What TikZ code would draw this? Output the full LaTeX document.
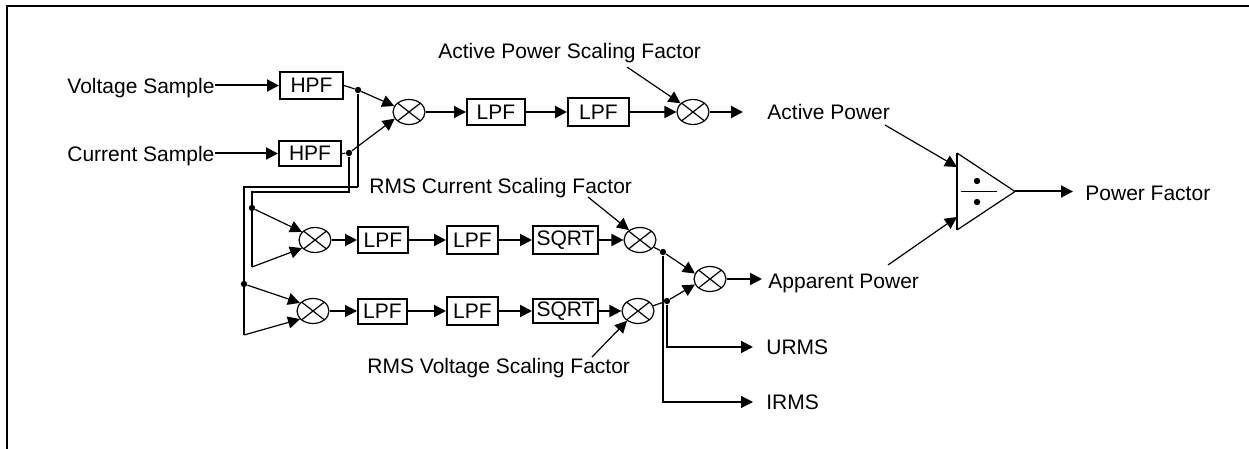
\documentclass[tikz,border=0pt]{standalone}
\usepackage{fontspec}
\setmainfont{Liberation Sans}
\usetikzlibrary{arrows.meta,shapes.geometric}
\begin{document}
\begin{tikzpicture}[x=0.5pt,y=-0.5pt,
  font=\fontsize{10.5pt}{12pt}\selectfont,
  thk/.style={line width=1pt},
  thn/.style={line width=0.6pt},
  arr/.style={-{Triangle[length=6pt,width=6pt]}},
  blk/.style={draw,line width=1pt,inner sep=0pt,minimum height=13pt},
  mult/.style={draw,ellipse,line width=0.6pt,inner sep=0pt,minimum width=16pt,minimum height=12.5pt,
     path picture={\draw[line width=0.6pt] (path picture bounding box.north west) -- (path picture bounding box.south east) (path picture bounding box.south west) -- (path picture bounding box.north east);}},
  jdot/.style={circle,fill,inner sep=0pt,minimum size=3.2pt},
  lbl/.style={inner sep=0pt,anchor=base west}]
\useasboundingbox (0,0) rectangle (1249,449);
% frame
\draw[line width=1pt] (7,449) -- (7,6) -- (1249,6);

% labels
\node[lbl] (vs) at (67,94) {Voltage Sample};
\node[lbl] (cs) at (67,162) {Current Sample};
\node[lbl] (apsf) at (438,59) {Active Power Scaling Factor};
\node[lbl] (rcsf) at (369,193) {RMS Current Scaling Factor};
\node[lbl] (rvsf) at (367,373) {RMS Voltage Scaling Factor};
\node[lbl] (ap) at (767,120) {Active Power};
\node[lbl] (pf) at (1085,200) {Power Factor};
\node[lbl] (app) at (768,288) {Apparent Power};
\node[lbl] (urms) at (766,354) {URMS};
\node[lbl] (irms) at (766,409) {IRMS};

% blocks
\node[blk,minimum width=31.5pt,minimum height=13.5pt] (hpf1) at (311.5,85.5) {HPF};
\node[blk,minimum width=31pt,minimum height=12.5pt] (hpf2) at (310,153.5) {HPF};
\node[mult] (m1) at (409,112) {};
\node[blk,minimum width=29pt] (la) at (496,112) {LPF};
\node[blk,minimum width=30.5pt,minimum height=14pt] (lb) at (598.5,112) {LPF};
\node[mult] (m6) at (693,112) {};

\node[mult] (m2) at (315,240) {};
\node[blk,minimum width=25pt] (l1a) at (383,240) {LPF};
\node[blk,minimum width=25.5pt,minimum height=14pt] (l1b) at (472.5,240) {LPF};
\node[blk,minimum width=32.5pt,minimum height=14pt] (s1) at (565.5,240) {SQRT};
\node[mult] (m4) at (640,240) {};

\node[mult] (m3) at (313,311) {};
\node[blk,minimum width=24.5pt,minimum height=12.5pt] (l2a) at (382.5,311) {LPF};
\node[blk,minimum width=25.5pt,minimum height=14pt] (l2b) at (472.5,311) {LPF};
\node[blk,minimum width=32.5pt,minimum height=12pt] (s2) at (565.5,311) {SQRT};
\node[mult] (m5) at (638,311) {};

\node[mult] (m7) at (710,279) {};

% junction dots
\node[jdot] (d1) at (358,90) {};
\node[jdot] (d2) at (349,153) {};
\node[jdot] (d5) at (252,208) {};
\node[jdot] (d4) at (244,284) {};
\node[jdot] (d3) at (663,252) {};
\node[jdot] (d6) at (667,301) {};

% helper coordinates
\coordinate (c1) at (358,187);
\coordinate (c2) at (244,187);
\coordinate (c3) at (244,335);
\coordinate (c4) at (349,192);
\coordinate (c5) at (252,192);
\coordinate (c6) at (252,267);
\coordinate (c7) at (667,347);
\coordinate (c8) at (753,347);
\coordinate (c9) at (663,402);
\coordinate (c10) at (753,402);
\coordinate (apend) at (743,112);
\coordinate (append) at (762,279);
\coordinate (apsrc) at (627,67);
\coordinate (rcsrc) at (588,197);
\coordinate (rvsrc) at (592,357);
\coordinate (aptail) at (885,125);
\coordinate (apptail) at (888,265);
\coordinate (t1) at (957,153);
\coordinate (t2) at (957,230);
\coordinate (t3) at (1015,191.5);
\coordinate (ti1) at (957,167);
\coordinate (ti2) at (957,217);
\coordinate (pfend) at (1073,191.5);
\coordinate (tl1) at (961,191.5);
\coordinate (tl2) at (997,191.5);
\node[jdot] (td1) at (977,181) {};
\node[jdot] (td2) at (977,202) {};

% inputs
\draw[thk,arr] (vs.east |- hpf1.west) -- (hpf1.west);
\draw[thk,arr] (cs.east |- hpf2.west) -- (hpf2.west);
\draw[thn,arr] (hpf1.east) -- (d1) -- (m1.158);
\draw[thn,arr] (hpf2.east) -- (d2) -- (m1.205);

% feed lines
\draw[thk] (d1) -- (c1);
\draw[thn] (c1) -- (c2) -- (c3);
\draw[thn,arr] (c3) -- (m3.212);
\draw[thn,arr] (d4) -- (m3.148);
\draw[thk] (d2) -- (c4) -- (c5) -- (c6);
\draw[thn,arr] (c6) -- (m2.212);
\draw[thn,arr] (d5) -- (m2.148);

% top row
\draw[thn,arr] (m1) -- (la);
\draw[thk,arr] (la) -- (lb);
\draw[thk,arr] (lb) -- (m6);
\draw[thk,arr] (m6) -- (apend);
\draw[thn,arr] (apsrc) -- (m6.145);

% RMS rows
\draw[thk,arr] (m2) -- (l1a);
\draw[thk,arr] (l1a) -- (l1b);
\draw[thk,arr] (l1b) -- (s1);
\draw[thk,arr] (s1) -- (m4);
\draw[thn,arr] (m3) -- (l2a);
\draw[thk,arr] (l2a) -- (l2b);
\draw[thk,arr] (l2b) -- (s2);
\draw[thk,arr] (s2) -- (m5);
\draw[thn,arr] (rcsrc) -- (m4.138);
\draw[thn,arr] (rvsrc) -- (m5.222);

\draw[thn,arr] (m4) -- (d3) -- (m7.160);
\draw[thn,arr] (m5) -- (d6) -- (m7.200);
\draw[thk,arr] (m7) -- (append);
\draw[thk,arr] (d6) -- (c7) -- (c8);
\draw[thn,arr] (d3) -- (c9) -- (c10);

% divider
\draw[thn] (t1) -- (t3) -- (t2);
\draw[thk] (t1) -- (t2);
\draw[line width=0.8pt] (tl1) -- (tl2);
\draw[thn,arr] (aptail) -- (ti1);
\draw[thn,arr] (apptail) -- (ti2);
\draw[thk,arr] (t3) -- (pfend);
\end{tikzpicture}
\end{document}
